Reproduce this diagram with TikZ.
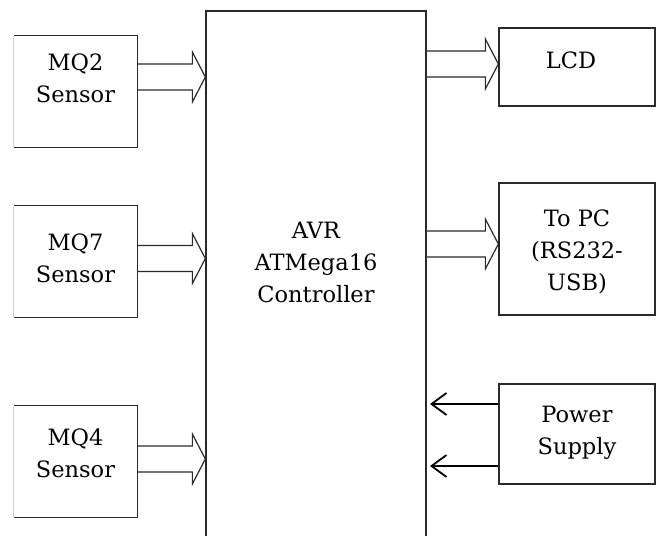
\documentclass[tikz,border=0pt]{standalone}
\usepackage{fontspec}
\setmainfont{DejaVu Serif}
\usepackage{tikz}
\usetikzlibrary{positioning,arrows.meta,calc}
\definecolor{edgegray}{HTML}{2A2A2A}
\definecolor{faintgray}{HTML}{D0D0D0}
\newcommand{\barbarrow}{-{Straight Barb[length=15pt,width=22pt,line width=1.8pt]}}
\newcommand{\fatarrow}[3]{%
  \draw[fat] ($(#1.east |- 0,#3)+(0,13)$) -- ($(#2.west |- 0,#3)+(-13,13)$) -- ++(0,12)
    -- (#2.west |- 0,#3) -- ($(#2.west |- 0,#3)+(-13,-25)$) -- ++(0,12)
    -- ($(#1.east |- 0,#3)+(0,-13)$);}

\begin{document}
\begin{tikzpicture}[x=1pt,y=1pt,
    box/.style={draw=edgegray,line width=1.3pt,inner sep=0pt},
    sensorbox/.style={inner sep=0pt,minimum width=123pt,minimum height=111pt},
    outbox/.style={box,minimum width=156pt},
    blocktext/.style={align=center,font=\fontsize{22.5}{32}\selectfont,inner sep=0pt},
    fat/.style={draw=edgegray,line width=1.2pt,line join=miter},
    faint/.style={draw=faintgray,line width=1pt}]
    \useasboundingbox (0,0) rectangle (657,536);
    % controller, open at the bottom
    \node[box,minimum width=220pt,minimum height=540pt] (ctrl) at (316,255) {};
    \node[blocktext] (ctrltext) at (316,274) {AVR\\ATMega16\\Controller};
    % sensors
    \node[sensorbox] (mq2) at (75.5,444.5) {};
    \node[sensorbox] (mq7) at (75.5,274.5) {};
    \node[sensorbox] (mq4) at (75.5,74.5) {};
    \foreach \s in {mq2,mq7,mq4}{
        \draw[box] (\s.north west) -- (\s.north east) -- (\s.south east) -- (\s.south west);
        \draw[faint] (\s.north west) -- (\s.south west);
    }
    \node[blocktext] (mq2text) at (75.5,458) {MQ2\\Sensor};
    \node[blocktext] (mq7text) at (75.5,278) {MQ7\\Sensor};
    \node[blocktext] (mq4text) at (75.5,82.5) {MQ4\\Sensor};
    % outputs and supply
    \node[outbox,minimum height=78pt] (lcd) at (577,469) {};
    \node[outbox,minimum height=132pt] (pc) at (577,287) {};
    \node[outbox,minimum height=100pt] (power) at (577,102) {};
    \node[blocktext] (lcdtext) at (571,476) {LCD};
    \node[blocktext] (pctext) at (577,284.5) {To PC\\(RS232-\\USB)};
    \node[blocktext] (powertext) at (577,103.5) {Power\\Supply};
    % block arrows
    \fatarrow{mq2}{ctrl}{459}
    \fatarrow{mq7}{ctrl}{277.5}
    \fatarrow{mq4}{ctrl}{77}
    \fatarrow{ctrl}{lcd}{472}
    \fatarrow{ctrl}{pc}{292}
    % supply lines
    \coordinate (in1) at (430,132);
    \coordinate (in2) at (430,70);
    \draw[\barbarrow,line width=1.8pt] (power.west |- in1) -- (in1);
    \draw[\barbarrow,line width=1.8pt] (power.west |- in2) -- (in2);
\end{tikzpicture}
\end{document}
